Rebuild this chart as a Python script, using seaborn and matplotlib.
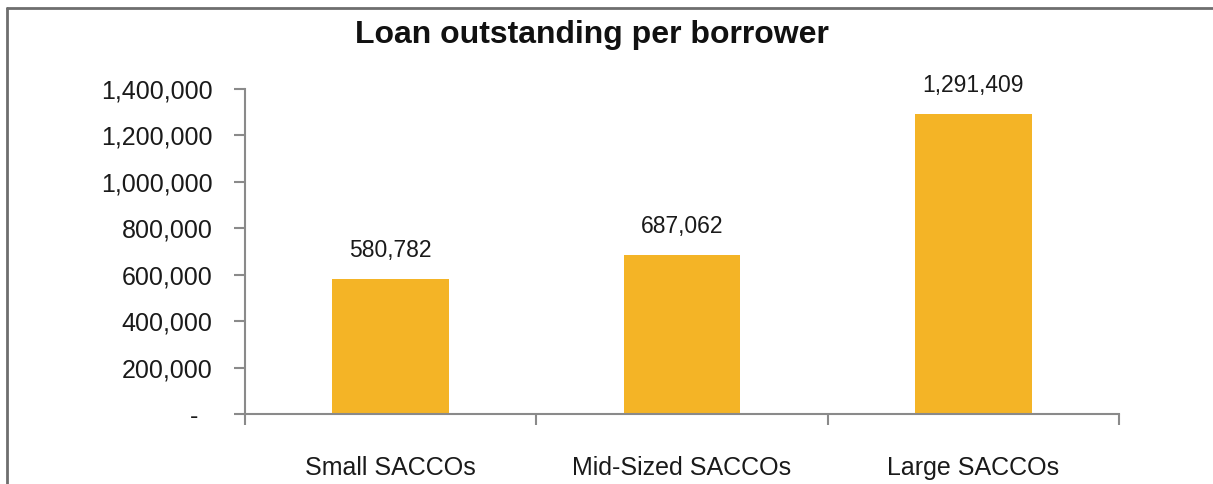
import matplotlib
matplotlib.use("Agg")
import matplotlib.pyplot as plt
import matplotlib.transforms as mtrans
import seaborn as sns
import pandas as pd
from matplotlib.lines import Line2D
from matplotlib.ticker import FuncFormatter, FixedLocator

categories = ["Small SACCOs", "Mid-Sized SACCOs", "Large SACCOs"]
values = [580782, 687062, 1291409]
yticks = [0, 200000, 400000, 600000, 800000, 1000000, 1200000, 1400000]
title = "Loan outstanding per borrower"

df = pd.DataFrame({"category": categories, "value": values})

sns.set_theme(style="white")
plt.rcParams["font.family"] = ["Liberation Sans", "DejaVu Sans"]

W, H = 1213, 484
fig = plt.figure(figsize=(W / 100, H / 100), dpi=100)
ax = fig.add_axes([245 / W, 1 - 414 / H, (1119 - 245) / W, (414 - 89) / H])

bar_color = "#F4B426"
sns.barplot(data=df, x="category", y="value", color=bar_color, width=0.4,
            saturation=1, ax=ax, edgecolor="none")

ax.set_xlim(-0.5, 2.5)
ax.set_ylim(0, 1400000)
ax.set_xlabel("")
ax.set_ylabel("")

axis_color = "#8a8a8a"
for side in ["top", "right"]:
    ax.spines[side].set_visible(False)
for side in ["left", "bottom"]:
    ax.spines[side].set_color(axis_color)
    ax.spines[side].set_linewidth(1.5)

ax.set_yticks(yticks)
ax.yaxis.set_major_formatter(FuncFormatter(lambda v, p: "-" if v == 0 else f"{int(v):,}"))
ax.tick_params(axis="y", which="major", length=8, width=1.5, color=axis_color,
               direction="out", left=True, pad=15.5, labelsize=18, labelcolor="#1a1a1a")

# x: boundary ticks (major, no labels) and category labels (minor, no tick)
ax.xaxis.set_major_locator(FixedLocator([-0.5, 0.5, 1.5, 2.5]))
ax.set_xticklabels(["", "", "", ""])
ax.xaxis.set_minor_locator(FixedLocator([0, 1, 2]))
ax.set_xticklabels(categories, minor=True)
ax.tick_params(axis="x", which="major", length=8, width=1.5, color=axis_color,
               direction="out", bottom=True)
ax.tick_params(axis="x", which="minor", length=0, pad=30, labelsize=18,
               labelcolor="#1a1a1a", bottom=True)

# shift the "-" zero label left a bit
for lbl in ax.get_yticklabels():
    if lbl.get_text() == "-":
        lbl.set_transform(lbl.get_transform() + mtrans.ScaledTranslation(-14 / 100, 0, fig.dpi_scale_trans))

for i, v in enumerate(values):
    ax.annotate(f"{v:,}", xy=(i, v), xytext=(0, 17), textcoords="offset pixels",
                ha="center", va="bottom", fontsize=16.5, color="#1a1a1a")

fig.text(592 / W, 1 - 35 / H, title, ha="center", va="center",
         fontsize=23, fontweight="bold", color="#111111")

# outer border (left and top)
border_color = "#6e6e6e"
fig.add_artist(Line2D([7 / W, 7 / W], [0, 1 - 8 / H], transform=fig.transFigure,
                      color=border_color, linewidth=2))
fig.add_artist(Line2D([7 / W, 1], [1 - 8 / H, 1 - 8 / H], transform=fig.transFigure,
                      color=border_color, linewidth=2))

fig.savefig("out.png", dpi=100, facecolor="white")
